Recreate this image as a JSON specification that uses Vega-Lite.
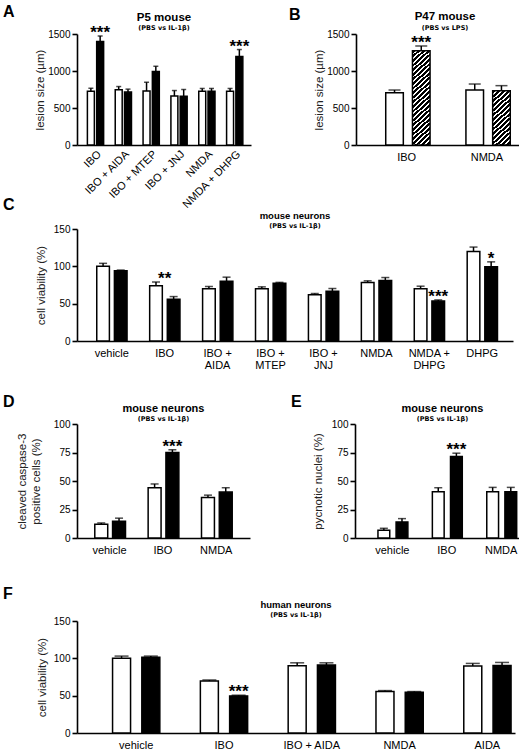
{
  "$schema": "https://vega.github.io/schema/vega-lite/v6.json",
  "padding": {"left": 3, "top": 3, "right": 2, "bottom": 0},
  "background": "white",
  "spacing": 23,
  "datasets": {
    "A": [
      {"k": "IBO|P", "cat": "IBO", "grp": "PBS", "val": 727, "hi": 767},
      {"k": "IBO|T", "cat": "IBO", "grp": "IL-1β", "val": 1397, "hi": 1473, "sig": "***"},
      {"k": "IBO + AIDA|P", "cat": "IBO + AIDA", "grp": "PBS", "val": 745, "hi": 790},
      {"k": "IBO + AIDA|T", "cat": "IBO + AIDA", "grp": "IL-1β", "val": 715, "hi": 755},
      {"k": "IBO + MTEP|P", "cat": "IBO + MTEP", "grp": "PBS", "val": 730, "hi": 848},
      {"k": "IBO + MTEP|T", "cat": "IBO + MTEP", "grp": "IL-1β", "val": 992, "hi": 1064},
      {"k": "IBO + JNJ|P", "cat": "IBO + JNJ", "grp": "PBS", "val": 662, "hi": 736},
      {"k": "IBO + JNJ|T", "cat": "IBO + JNJ", "grp": "IL-1β", "val": 660, "hi": 750},
      {"k": "NMDA|P", "cat": "NMDA", "grp": "PBS", "val": 725, "hi": 764},
      {"k": "NMDA|T", "cat": "NMDA", "grp": "IL-1β", "val": 725, "hi": 764},
      {"k": "NMDA + DHPG|P", "cat": "NMDA + DHPG", "grp": "PBS", "val": 725, "hi": 764},
      {"k": "NMDA + DHPG|T", "cat": "NMDA + DHPG", "grp": "IL-1β", "val": 1195, "hi": 1290, "sig": "***"}
    ],
    "B": [
      {"k": "IBO|P", "cat": "IBO", "grp": "PBS", "val": 706, "hi": 743},
      {"k": "IBO|T", "cat": "IBO", "grp": "LPS", "val": 1274, "hi": 1338, "sig": "***"},
      {"k": "NMDA|P", "cat": "NMDA", "grp": "PBS", "val": 743, "hi": 824},
      {"k": "NMDA|T", "cat": "NMDA", "grp": "LPS", "val": 734, "hi": 802}
    ],
    "C": [
      {"k": "vehicle|P", "cat": "vehicle", "grp": "PBS", "val": 100, "hi": 104},
      {"k": "vehicle|T", "cat": "vehicle", "grp": "IL-1β", "val": 94, "hi": 95},
      {"k": "IBO|P", "cat": "IBO", "grp": "PBS", "val": 74, "hi": 79, "sig2": "**"},
      {"k": "IBO|T", "cat": "IBO", "grp": "IL-1β", "val": 56, "hi": 59.5},
      {"k": "IBO + AIDA|P", "cat": "IBO + AIDA", "grp": "PBS", "val": 70, "hi": 73},
      {"k": "IBO + AIDA|T", "cat": "IBO + AIDA", "grp": "IL-1β", "val": 80, "hi": 85.5},
      {"k": "IBO + MTEP|P", "cat": "IBO + MTEP", "grp": "PBS", "val": 70, "hi": 72.5},
      {"k": "IBO + MTEP|T", "cat": "IBO + MTEP", "grp": "IL-1β", "val": 77.5, "hi": 78.5},
      {"k": "IBO + JNJ|P", "cat": "IBO + JNJ", "grp": "PBS", "val": 62, "hi": 63.6},
      {"k": "IBO + JNJ|T", "cat": "IBO + JNJ", "grp": "IL-1β", "val": 66.7, "hi": 70.3},
      {"k": "NMDA|P", "cat": "NMDA", "grp": "PBS", "val": 78.4, "hi": 80.6},
      {"k": "NMDA|T", "cat": "NMDA", "grp": "IL-1β", "val": 81, "hi": 85},
      {"k": "NMDA + DHPG|P", "cat": "NMDA + DHPG", "grp": "PBS", "val": 70, "hi": 73.4},
      {"k": "NMDA + DHPG|T", "cat": "NMDA + DHPG", "grp": "IL-1β", "val": 53.5, "hi": 55, "sig": "***"},
      {"k": "DHPG|P", "cat": "DHPG", "grp": "PBS", "val": 120, "hi": 125.8},
      {"k": "DHPG|T", "cat": "DHPG", "grp": "IL-1β", "val": 99.4, "hi": 106, "sig": "*"}
    ],
    "D": [
      {"k": "vehicle|P", "cat": "vehicle", "grp": "PBS", "val": 12, "hi": 13.2},
      {"k": "vehicle|T", "cat": "vehicle", "grp": "IL-1β", "val": 14.7, "hi": 17.4},
      {"k": "IBO|P", "cat": "IBO", "grp": "PBS", "val": 44.1, "hi": 47.4},
      {"k": "IBO|T", "cat": "IBO", "grp": "IL-1β", "val": 75, "hi": 77.4, "sig": "***"},
      {"k": "NMDA|P", "cat": "NMDA", "grp": "PBS", "val": 35.6, "hi": 37.6},
      {"k": "NMDA|T", "cat": "NMDA", "grp": "IL-1β", "val": 40.3, "hi": 44.1}
    ],
    "E": [
      {"k": "vehicle|P", "cat": "vehicle", "grp": "PBS", "val": 6.8, "hi": 8.5},
      {"k": "vehicle|T", "cat": "vehicle", "grp": "IL-1β", "val": 14.1, "hi": 17},
      {"k": "IBO|P", "cat": "IBO", "grp": "PBS", "val": 40.6, "hi": 44.1},
      {"k": "IBO|T", "cat": "IBO", "grp": "IL-1β", "val": 71.5, "hi": 74.4, "sig": "***"},
      {"k": "NMDA|P", "cat": "NMDA", "grp": "PBS", "val": 40.6, "hi": 44.4},
      {"k": "NMDA|T", "cat": "NMDA", "grp": "IL-1β", "val": 40.6, "hi": 44.4}
    ],
    "F": [
      {"k": "vehicle|P", "cat": "vehicle", "grp": "PBS", "val": 100, "hi": 103},
      {"k": "vehicle|T", "cat": "vehicle", "grp": "IL-1β", "val": 101.6, "hi": 103},
      {"k": "IBO|P", "cat": "IBO", "grp": "PBS", "val": 69.7, "hi": 71},
      {"k": "IBO|T", "cat": "IBO", "grp": "IL-1β", "val": 49.7, "hi": 50.6, "sig": "***"},
      {"k": "IBO + AIDA|P", "cat": "IBO + AIDA", "grp": "PBS", "val": 90.1, "hi": 94},
      {"k": "IBO + AIDA|T", "cat": "IBO + AIDA", "grp": "IL-1β", "val": 91, "hi": 94},
      {"k": "NMDA|P", "cat": "NMDA", "grp": "PBS", "val": 55.5, "hi": 56.8},
      {"k": "NMDA|T", "cat": "NMDA", "grp": "IL-1β", "val": 54.6, "hi": 55.5},
      {"k": "AIDA|P", "cat": "AIDA", "grp": "PBS", "val": 89.7, "hi": 93.2},
      {"k": "AIDA|T", "cat": "AIDA", "grp": "IL-1β", "val": 90.5, "hi": 94.5}
    ]
  },
  "vconcat": [
    {
      "spacing": -14,
      "vconcat": [
        {
          "spacing": 37,
          "hconcat": [
            {
              "title": {"text": "A", "anchor": "start", "frame": "group", "dx": -74, "dy": 8, "fontSize": 16, "offset": 0},
              "hconcat": [
                {
                  "width": 174, "height": 111,
                  "title": {"text": "P5 mouse", "subtitle": "(PBS vs IL-1β)", "fontSize": 11.5, "offset": -8},
                  "data": {"name": "A"},
                  "encoding": {
                    "x": {"field": "k", "type": "nominal",
                      "scale": {"domain": ["IBO|P", "IBO|T", "g1", "IBO + AIDA|P", "IBO + AIDA|T", "g2", "IBO + MTEP|P", "IBO + MTEP|T", "g3", "IBO + JNJ|P", "IBO + JNJ|T", "g4", "NMDA|P", "NMDA|T", "g5", "NMDA + DHPG|P", "NMDA + DHPG|T"], "paddingInner": 0.25, "paddingOuter": 1.365, "align": 0.56},
                      "axis": {"title": null, "labelAngle": -45, "labelPadding": 3, "labelOffset": 4.5, "labelOverlap": false, "labelExpr": "indexof(datum.label, '|P') > 0 ? slice(datum.label, 0, indexof(datum.label, '|')) : ''"}}
                  },
                  "layer": [
                    {"mark": {"type": "bar", "stroke": "black", "strokeWidth": 1.5},
                     "encoding": {
                       "y": {"field": "val", "type": "quantitative", "scale": {"domain": [0, 1500], "nice": false}, "axis": {"values": [0, 500, 1000, 1500], "format": "d", "titlePadding": 2, "title": "lesion size (µm)"}},
                       "fill": {"field": "grp", "type": "nominal", "scale": {"domain": ["PBS", "IL-1β"], "range": ["white", "black"]}, "legend": null}}},
                    {"mark": {"type": "rule", "strokeWidth": 1.5, "color": "black"}, "encoding": {"y": {"field": "val", "type": "quantitative", "scale": {"domain": [0, 1500], "nice": false}, "axis": {"values": [0, 500, 1000, 1500], "format": "d", "titlePadding": 2, "title": "lesion size (µm)"}}, "y2": {"field": "hi"}}},
                    {"mark": {"type": "tick", "thickness": 1.5, "size": 5, "color": "black"}, "encoding": {"y": {"field": "hi", "type": "quantitative", "scale": {"domain": [0, 1500], "nice": false}, "axis": {"values": [0, 500, 1000, 1500], "format": "d", "titlePadding": 2, "title": "lesion size (µm)"}}}},
                    {"transform": [{"filter": "datum.sig"}], "mark": {"type": "text", "fontSize": 17, "fontWeight": "bold", "baseline": "alphabetic", "dy": 2}, "encoding": {"y": {"field": "hi", "type": "quantitative", "scale": {"domain": [0, 1500], "nice": false}, "axis": {"values": [0, 500, 1000, 1500], "format": "d", "titlePadding": 2, "title": "lesion size (µm)"}}, "text": {"field": "sig"}}}
                  ]
                }
              ]
            },
            {
              "title": {"text": "B", "anchor": "start", "frame": "group", "dx": -67, "dy": 12, "fontSize": 16, "offset": 0},
              "hconcat": [
                {
                  "width": 178, "height": 111,
                  "title": {"text": "P47 mouse", "subtitle": "(PBS vs LPS)", "fontSize": 11.5, "offset": -2},
                  "data": {"name": "B"},
                  "encoding": {
                    "x": {"field": "k", "type": "nominal",
                      "scale": {"domain": ["IBO|P", "IBO|T", "g1", "NMDA|P", "NMDA|T"], "paddingInner": 0.342, "paddingOuter": 1.333, "align": 0.556},
                      "axis": {"title": null, "labelOffset": 12.15, "labelOverlap": false, "labelExpr": "indexof(datum.label, '|P') > 0 ? slice(datum.label, 0, indexof(datum.label, '|')) : ''"}}
                  },
                  "layer": [
                    {"transform": [{"filter": "datum.grp === 'PBS'"}],
                     "mark": {"type": "bar", "stroke": "black", "strokeWidth": 1.5, "fill": "white"},
                     "encoding": {"y": {"field": "val", "type": "quantitative", "scale": {"domain": [0, 1500], "nice": false}, "axis": {"values": [0, 500, 1000, 1500], "format": "d", "titlePadding": 2, "title": "lesion size (µm)"}}}},
                    {"transform": [{"filter": "datum.k === 'IBO|T'"}],
                     "mark": {"type": "bar", "stroke": "black", "strokeWidth": 1.5,
                       "fill": {"gradient": "linear", "x1": 0, "y1": 0, "x2": 0.193, "y2": 1.137, "stops": [
                         {"offset": 0, "color": "black"}, {"offset": 0.025, "color": "black"}, {"offset": 0.025, "color": "white"}, {"offset": 0.0417, "color": "white"},
                         {"offset": 0.0417, "color": "black"}, {"offset": 0.0667, "color": "black"}, {"offset": 0.0667, "color": "white"}, {"offset": 0.0833, "color": "white"},
                         {"offset": 0.0833, "color": "black"}, {"offset": 0.1083, "color": "black"}, {"offset": 0.1083, "color": "white"}, {"offset": 0.125, "color": "white"},
                         {"offset": 0.125, "color": "black"}, {"offset": 0.15, "color": "black"}, {"offset": 0.15, "color": "white"}, {"offset": 0.1667, "color": "white"},
                         {"offset": 0.1667, "color": "black"}, {"offset": 0.1917, "color": "black"}, {"offset": 0.1917, "color": "white"}, {"offset": 0.2083, "color": "white"},
                         {"offset": 0.2083, "color": "black"}, {"offset": 0.2333, "color": "black"}, {"offset": 0.2333, "color": "white"}, {"offset": 0.25, "color": "white"},
                         {"offset": 0.25, "color": "black"}, {"offset": 0.275, "color": "black"}, {"offset": 0.275, "color": "white"}, {"offset": 0.2917, "color": "white"},
                         {"offset": 0.2917, "color": "black"}, {"offset": 0.3167, "color": "black"}, {"offset": 0.3167, "color": "white"}, {"offset": 0.3333, "color": "white"},
                         {"offset": 0.3333, "color": "black"}, {"offset": 0.3583, "color": "black"}, {"offset": 0.3583, "color": "white"}, {"offset": 0.375, "color": "white"},
                         {"offset": 0.375, "color": "black"}, {"offset": 0.4, "color": "black"}, {"offset": 0.4, "color": "white"}, {"offset": 0.4167, "color": "white"},
                         {"offset": 0.4167, "color": "black"}, {"offset": 0.4417, "color": "black"}, {"offset": 0.4417, "color": "white"}, {"offset": 0.4583, "color": "white"},
                         {"offset": 0.4583, "color": "black"}, {"offset": 0.4833, "color": "black"}, {"offset": 0.4833, "color": "white"}, {"offset": 0.5, "color": "white"},
                         {"offset": 0.5, "color": "black"}, {"offset": 0.525, "color": "black"}, {"offset": 0.525, "color": "white"}, {"offset": 0.5417, "color": "white"},
                         {"offset": 0.5417, "color": "black"}, {"offset": 0.5667, "color": "black"}, {"offset": 0.5667, "color": "white"}, {"offset": 0.5833, "color": "white"},
                         {"offset": 0.5833, "color": "black"}, {"offset": 0.6083, "color": "black"}, {"offset": 0.6083, "color": "white"}, {"offset": 0.625, "color": "white"},
                         {"offset": 0.625, "color": "black"}, {"offset": 0.65, "color": "black"}, {"offset": 0.65, "color": "white"}, {"offset": 0.6667, "color": "white"},
                         {"offset": 0.6667, "color": "black"}, {"offset": 0.6917, "color": "black"}, {"offset": 0.6917, "color": "white"}, {"offset": 0.7083, "color": "white"},
                         {"offset": 0.7083, "color": "black"}, {"offset": 0.7333, "color": "black"}, {"offset": 0.7333, "color": "white"}, {"offset": 0.75, "color": "white"},
                         {"offset": 0.75, "color": "black"}, {"offset": 0.775, "color": "black"}, {"offset": 0.775, "color": "white"}, {"offset": 0.7917, "color": "white"},
                         {"offset": 0.7917, "color": "black"}, {"offset": 0.8167, "color": "black"}, {"offset": 0.8167, "color": "white"}, {"offset": 0.8333, "color": "white"},
                         {"offset": 0.8333, "color": "black"}, {"offset": 0.8583, "color": "black"}, {"offset": 0.8583, "color": "white"}, {"offset": 0.875, "color": "white"},
                         {"offset": 0.875, "color": "black"}, {"offset": 0.9, "color": "black"}, {"offset": 0.9, "color": "white"}, {"offset": 0.9167, "color": "white"},
                         {"offset": 0.9167, "color": "black"}, {"offset": 0.9417, "color": "black"}, {"offset": 0.9417, "color": "white"}, {"offset": 0.9583, "color": "white"},
                         {"offset": 0.9583, "color": "black"}, {"offset": 0.9833, "color": "black"}, {"offset": 0.9833, "color": "white"}, {"offset": 1, "color": "white"}
                       ]}},
                     "encoding": {"y": {"field": "val", "type": "quantitative", "scale": {"domain": [0, 1500], "nice": false}, "axis": {"values": [0, 500, 1000, 1500], "format": "d", "titlePadding": 2, "title": "lesion size (µm)"}}}},
                    {"transform": [{"filter": "datum.k === 'NMDA|T'"}],
                     "mark": {"type": "bar", "stroke": "black", "strokeWidth": 1.5,
                       "fill": {"gradient": "linear", "x1": 0, "y1": 0, "x2": 0.351, "y2": 1.191, "stops": [
                         {"offset": 0, "color": "black"}, {"offset": 0.04, "color": "black"}, {"offset": 0.04, "color": "white"}, {"offset": 0.0667, "color": "white"},
                         {"offset": 0.0667, "color": "black"}, {"offset": 0.1067, "color": "black"}, {"offset": 0.1067, "color": "white"}, {"offset": 0.1333, "color": "white"},
                         {"offset": 0.1333, "color": "black"}, {"offset": 0.1733, "color": "black"}, {"offset": 0.1733, "color": "white"}, {"offset": 0.2, "color": "white"},
                         {"offset": 0.2, "color": "black"}, {"offset": 0.24, "color": "black"}, {"offset": 0.24, "color": "white"}, {"offset": 0.2667, "color": "white"},
                         {"offset": 0.2667, "color": "black"}, {"offset": 0.3067, "color": "black"}, {"offset": 0.3067, "color": "white"}, {"offset": 0.3333, "color": "white"},
                         {"offset": 0.3333, "color": "black"}, {"offset": 0.3733, "color": "black"}, {"offset": 0.3733, "color": "white"}, {"offset": 0.4, "color": "white"},
                         {"offset": 0.4, "color": "black"}, {"offset": 0.44, "color": "black"}, {"offset": 0.44, "color": "white"}, {"offset": 0.4667, "color": "white"},
                         {"offset": 0.4667, "color": "black"}, {"offset": 0.5067, "color": "black"}, {"offset": 0.5067, "color": "white"}, {"offset": 0.5333, "color": "white"},
                         {"offset": 0.5333, "color": "black"}, {"offset": 0.5733, "color": "black"}, {"offset": 0.5733, "color": "white"}, {"offset": 0.6, "color": "white"},
                         {"offset": 0.6, "color": "black"}, {"offset": 0.64, "color": "black"}, {"offset": 0.64, "color": "white"}, {"offset": 0.6667, "color": "white"},
                         {"offset": 0.6667, "color": "black"}, {"offset": 0.7067, "color": "black"}, {"offset": 0.7067, "color": "white"}, {"offset": 0.7333, "color": "white"},
                         {"offset": 0.7333, "color": "black"}, {"offset": 0.7733, "color": "black"}, {"offset": 0.7733, "color": "white"}, {"offset": 0.8, "color": "white"},
                         {"offset": 0.8, "color": "black"}, {"offset": 0.84, "color": "black"}, {"offset": 0.84, "color": "white"}, {"offset": 0.8667, "color": "white"},
                         {"offset": 0.8667, "color": "black"}, {"offset": 0.9067, "color": "black"}, {"offset": 0.9067, "color": "white"}, {"offset": 0.9333, "color": "white"},
                         {"offset": 0.9333, "color": "black"}, {"offset": 0.9733, "color": "black"}, {"offset": 0.9733, "color": "white"}, {"offset": 1, "color": "white"}
                       ]}},
                     "encoding": {"y": {"field": "val", "type": "quantitative", "scale": {"domain": [0, 1500], "nice": false}, "axis": {"values": [0, 500, 1000, 1500], "format": "d", "titlePadding": 2, "title": "lesion size (µm)"}}}},
                    {"mark": {"type": "rule", "strokeWidth": 1.5, "color": "black"}, "encoding": {"y": {"field": "val", "type": "quantitative", "scale": {"domain": [0, 1500], "nice": false}, "axis": {"values": [0, 500, 1000, 1500], "format": "d", "titlePadding": 2, "title": "lesion size (µm)"}}, "y2": {"field": "hi"}}},
                    {"mark": {"type": "tick", "thickness": 1.5, "size": 12, "color": "black"}, "encoding": {"y": {"field": "hi", "type": "quantitative", "scale": {"domain": [0, 1500], "nice": false}, "axis": {"values": [0, 500, 1000, 1500], "format": "d", "titlePadding": 2, "title": "lesion size (µm)"}}}},
                    {"transform": [{"filter": "datum.sig"}], "mark": {"type": "text", "fontSize": 17, "fontWeight": "bold", "baseline": "alphabetic", "dy": 2}, "encoding": {"y": {"field": "hi", "type": "quantitative", "scale": {"domain": [0, 1500], "nice": false}, "axis": {"values": [0, 500, 1000, 1500], "format": "d", "titlePadding": 2, "title": "lesion size (µm)"}}, "text": {"field": "sig"}}}
                  ]
                }
              ]
            }
          ]
        },
        {
          "title": {"text": "C", "anchor": "start", "frame": "group", "dx": -74, "dy": 2, "fontSize": 16, "offset": 0},
          "hconcat": [
            {
              "width": 436, "height": 112,
              "title": {"text": "mouse neurons", "subtitle": "(PBS vs IL-1β)", "fontSize": 9.5, "offset": -5},
              "data": {"name": "C"},
              "encoding": {
                "x": {"field": "k", "type": "nominal",
                  "scale": {"domain": ["vehicle|P", "vehicle|T", "g1", "IBO|P", "IBO|T", "g2", "IBO + AIDA|P", "IBO + AIDA|T", "g3", "IBO + MTEP|P", "IBO + MTEP|T", "g4", "IBO + JNJ|P", "IBO + JNJ|T", "g5", "NMDA|P", "NMDA|T", "g6", "NMDA + DHPG|P", "NMDA + DHPG|T", "g7", "DHPG|P", "DHPG|T"], "paddingInner": 0.283, "paddingOuter": 1.146, "align": 0.56},
                  "axis": {"title": null, "labelOffset": 8.7, "labelOverlap": false, "labelLineHeight": 12, "labelExpr": "indexof(datum.label, '|P') > 0 ? split(replace(slice(datum.label, 0, indexof(datum.label, '|')), ' + ', ' +|'), '|') : ''"}}
              },
              "layer": [
                {"mark": {"type": "bar", "stroke": "black", "strokeWidth": 1.5},
                 "encoding": {
                   "y": {"field": "val", "type": "quantitative", "scale": {"domain": [0, 150], "nice": false}, "axis": {"values": [0, 50, 100, 150], "titlePadding": 7, "title": "cell viability (%)"}},
                   "fill": {"field": "grp", "type": "nominal", "scale": {"domain": ["PBS", "IL-1β"], "range": ["white", "black"]}, "legend": null}}},
                {"mark": {"type": "rule", "strokeWidth": 1.5, "color": "black"}, "encoding": {"y": {"field": "val", "type": "quantitative", "scale": {"domain": [0, 150], "nice": false}, "axis": {"values": [0, 50, 100, 150], "titlePadding": 7, "title": "cell viability (%)"}}, "y2": {"field": "hi"}}},
                {"mark": {"type": "tick", "thickness": 1.5, "size": 8, "color": "black"}, "encoding": {"y": {"field": "hi", "type": "quantitative", "scale": {"domain": [0, 150], "nice": false}, "axis": {"values": [0, 50, 100, 150], "titlePadding": 7, "title": "cell viability (%)"}}}},
                {"transform": [{"filter": "datum.sig"}], "mark": {"type": "text", "fontSize": 17, "fontWeight": "bold", "baseline": "alphabetic", "dy": 2}, "encoding": {"y": {"field": "hi", "type": "quantitative", "scale": {"domain": [0, 150], "nice": false}, "axis": {"values": [0, 50, 100, 150], "titlePadding": 7, "title": "cell viability (%)"}}, "text": {"field": "sig"}}},
                {"transform": [{"filter": "datum.sig2"}], "mark": {"type": "text", "fontSize": 17, "fontWeight": "bold", "baseline": "alphabetic", "dy": 2, "dx": 8.7}, "encoding": {"y": {"field": "hi", "type": "quantitative", "scale": {"domain": [0, 150], "nice": false}, "axis": {"values": [0, 50, 100, 150], "titlePadding": 7, "title": "cell viability (%)"}}, "text": {"field": "sig2"}}}
              ]
            }
          ]
        }
      ]
    },
    {
      "spacing": 31,
      "vconcat": [
        {
          "spacing": 41,
          "hconcat": [
            {
              "title": {"text": "D", "anchor": "start", "frame": "group", "dx": -74, "dy": 7, "fontSize": 16, "offset": 0},
              "hconcat": [
                {
                  "width": 173, "height": 114,
                  "title": {"text": "mouse neurons", "subtitle": "(PBS vs IL-1β)", "fontSize": 11, "offset": -3},
                  "data": {"name": "D"},
                  "encoding": {
                    "x": {"field": "k", "type": "nominal",
                      "scale": {"domain": ["vehicle|P", "vehicle|T", "g1", "IBO|P", "IBO|T", "g2", "NMDA|P", "NMDA|T"], "paddingInner": 0.273, "paddingOuter": 1.379, "align": 0.5},
                      "axis": {"title": null, "labelOffset": 8.25, "labelOverlap": false, "labelExpr": "indexof(datum.label, '|P') > 0 ? slice(datum.label, 0, indexof(datum.label, '|')) : ''"}}
                  },
                  "layer": [
                    {"mark": {"type": "bar", "stroke": "black", "strokeWidth": 1.5},
                     "encoding": {
                       "y": {"field": "val", "type": "quantitative", "scale": {"domain": [0, 100], "nice": false}, "axis": {"values": [0, 25, 50, 75, 100], "titlePadding": 12, "title": ["cleaved caspase-3", "positive cells (%)"]}},
                       "fill": {"field": "grp", "type": "nominal", "scale": {"domain": ["PBS", "IL-1β"], "range": ["white", "black"]}, "legend": null}}},
                    {"mark": {"type": "rule", "strokeWidth": 1.5, "color": "black"}, "encoding": {"y": {"field": "val", "type": "quantitative", "scale": {"domain": [0, 100], "nice": false}, "axis": {"values": [0, 25, 50, 75, 100], "titlePadding": 12, "title": ["cleaved caspase-3", "positive cells (%)"]}}, "y2": {"field": "hi"}}},
                    {"mark": {"type": "tick", "thickness": 1.5, "size": 8, "color": "black"}, "encoding": {"y": {"field": "hi", "type": "quantitative", "scale": {"domain": [0, 100], "nice": false}, "axis": {"values": [0, 25, 50, 75, 100], "titlePadding": 12, "title": ["cleaved caspase-3", "positive cells (%)"]}}}},
                    {"transform": [{"filter": "datum.sig"}], "mark": {"type": "text", "fontSize": 17, "fontWeight": "bold", "baseline": "alphabetic", "dy": 2}, "encoding": {"y": {"field": "hi", "type": "quantitative", "scale": {"domain": [0, 100], "nice": false}, "axis": {"values": [0, 25, 50, 75, 100], "titlePadding": 12, "title": ["cleaved caspase-3", "positive cells (%)"]}}, "text": {"field": "sig"}}}
                  ]
                }
              ]
            },
            {
              "title": {"text": "E", "anchor": "start", "frame": "group", "dx": -64, "dy": 7, "fontSize": 16, "offset": 0},
              "hconcat": [
                {
                  "width": 175, "height": 114,
                  "title": {"text": "mouse neurons", "subtitle": "(PBS vs IL-1β)", "fontSize": 11, "offset": -3},
                  "data": {"name": "E"},
                  "encoding": {
                    "x": {"field": "k", "type": "nominal",
                      "scale": {"domain": ["vehicle|P", "vehicle|T", "g1", "IBO|P", "IBO|T", "g2", "NMDA|P", "NMDA|T"], "paddingInner": 0.35, "paddingOuter": 1.343, "align": 0.633},
                      "axis": {"title": null, "labelOffset": 8.47, "labelOverlap": false, "labelExpr": "indexof(datum.label, '|P') > 0 ? slice(datum.label, 0, indexof(datum.label, '|')) : ''"}}
                  },
                  "layer": [
                    {"mark": {"type": "bar", "stroke": "black", "strokeWidth": 1.5},
                     "encoding": {
                       "y": {"field": "val", "type": "quantitative", "scale": {"domain": [0, 100], "nice": false}, "axis": {"values": [0, 25, 50, 75, 100], "titlePadding": 8, "title": "pycnotic nuclei (%)"}},
                       "fill": {"field": "grp", "type": "nominal", "scale": {"domain": ["PBS", "IL-1β"], "range": ["white", "black"]}, "legend": null}}},
                    {"mark": {"type": "rule", "strokeWidth": 1.5, "color": "black"}, "encoding": {"y": {"field": "val", "type": "quantitative", "scale": {"domain": [0, 100], "nice": false}, "axis": {"values": [0, 25, 50, 75, 100], "titlePadding": 8, "title": "pycnotic nuclei (%)"}}, "y2": {"field": "hi"}}},
                    {"mark": {"type": "tick", "thickness": 1.5, "size": 8, "color": "black"}, "encoding": {"y": {"field": "hi", "type": "quantitative", "scale": {"domain": [0, 100], "nice": false}, "axis": {"values": [0, 25, 50, 75, 100], "titlePadding": 8, "title": "pycnotic nuclei (%)"}}}},
                    {"transform": [{"filter": "datum.sig"}], "mark": {"type": "text", "fontSize": 17, "fontWeight": "bold", "baseline": "alphabetic", "dy": 2}, "encoding": {"y": {"field": "hi", "type": "quantitative", "scale": {"domain": [0, 100], "nice": false}, "axis": {"values": [0, 25, 50, 75, 100], "titlePadding": 8, "title": "pycnotic nuclei (%)"}}, "text": {"field": "sig"}}}
                  ]
                }
              ]
            }
          ]
        },
        {
          "title": {"text": "F", "anchor": "start", "frame": "group", "dx": -74, "dy": 2, "fontSize": 16, "offset": 0},
          "hconcat": [
            {
              "width": 438, "height": 112,
              "title": {"text": "human neurons", "subtitle": "(PBS vs IL-1β)", "fontSize": 9.5, "offset": -2},
              "data": {"name": "F"},
              "encoding": {
                "x": {"field": "k", "type": "nominal",
                  "scale": {"domain": ["vehicle|P", "vehicle|T", "g1", "IBO|P", "IBO|T", "g2", "IBO + AIDA|P", "IBO + AIDA|T", "g3", "NMDA|P", "NMDA|T", "g4", "AIDA|P", "AIDA|T"], "paddingInner": 0.385, "paddingOuter": 0.675, "align": 0.9},
                  "axis": {"title": null, "labelOffset": 14.6, "labelOverlap": false, "labelExpr": "indexof(datum.label, '|P') > 0 ? slice(datum.label, 0, indexof(datum.label, '|')) : ''"}}
              },
              "layer": [
                {"mark": {"type": "bar", "stroke": "black", "strokeWidth": 1.5},
                 "encoding": {
                   "y": {"field": "val", "type": "quantitative", "scale": {"domain": [0, 150], "nice": false}, "axis": {"values": [0, 50, 100, 150], "titlePadding": 6, "title": "cell viability (%)"}},
                   "fill": {"field": "grp", "type": "nominal", "scale": {"domain": ["PBS", "IL-1β"], "range": ["white", "black"]}, "legend": null}}},
                {"mark": {"type": "rule", "strokeWidth": 1.5, "color": "black"}, "encoding": {"y": {"field": "val", "type": "quantitative", "scale": {"domain": [0, 150], "nice": false}, "axis": {"values": [0, 50, 100, 150], "titlePadding": 6, "title": "cell viability (%)"}}, "y2": {"field": "hi"}}},
                {"mark": {"type": "tick", "thickness": 1.5, "size": 14, "color": "black"}, "encoding": {"y": {"field": "hi", "type": "quantitative", "scale": {"domain": [0, 150], "nice": false}, "axis": {"values": [0, 50, 100, 150], "titlePadding": 6, "title": "cell viability (%)"}}}},
                {"transform": [{"filter": "datum.sig"}], "mark": {"type": "text", "fontSize": 17, "fontWeight": "bold", "baseline": "alphabetic", "dy": 2}, "encoding": {"y": {"field": "hi", "type": "quantitative", "scale": {"domain": [0, 150], "nice": false}, "axis": {"values": [0, 50, 100, 150], "titlePadding": 6, "title": "cell viability (%)"}}, "text": {"field": "sig"}}}
              ]
            }
          ]
        }
      ]
    }
  ],
  "config": {
    "view": {"stroke": null},
    "font": "Liberation Sans",
    "axis": {
      "grid": false,
      "domainColor": "black", "domainWidth": 1.6,
      "tickColor": "black", "tickWidth": 1.6, "tickSize": 5,
      "labelColor": "black", "labelFont": "Liberation Sans", "labelFontSize": 11,
      "titleFont": "Liberation Sans", "titleFontWeight": "normal", "titleFontSize": 11.5, "titleColor": "#222",
      "labelPadding": 2, "titlePadding": 3
    },
    "axisX": {"ticks": false, "labelAngle": 0, "labelPadding": 6},
    "axisY": {"labelFontSize": 10},
    "title": {
      "font": "Liberation Sans", "fontWeight": "bold", "color": "black", "anchor": "middle", "frame": "group", "offset": 2,
      "subtitleFont": "DejaVu Sans", "subtitleFontSize": 6.5, "subtitleFontWeight": "bold", "subtitleColor": "black", "subtitlePadding": 2
    }
  }
}
